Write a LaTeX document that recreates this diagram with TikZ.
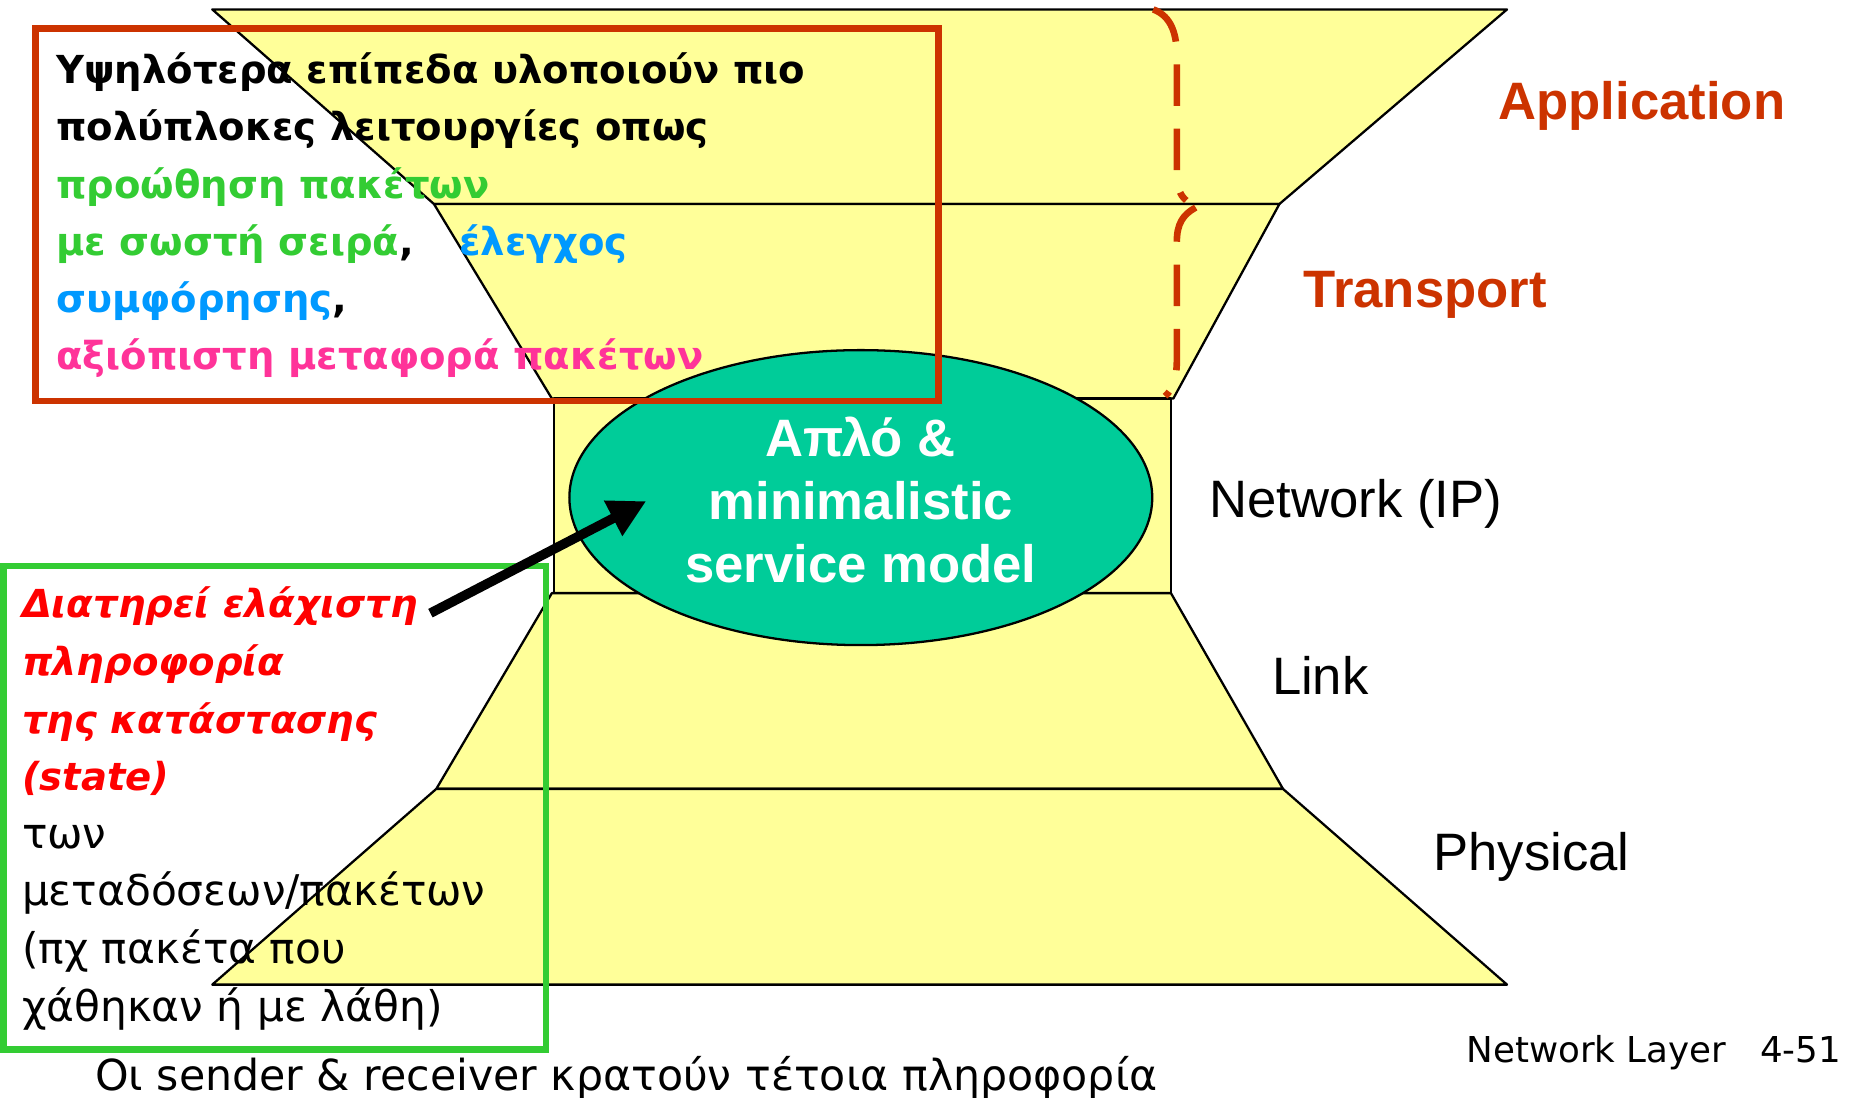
\documentclass[tikz,border=0pt]{standalone}
\usepackage{fontspec}
\setmainfont{Liberation Sans}
\newfontfamily\comic{DejaVu Sans}
\usetikzlibrary{arrows.meta}
\usetikzlibrary{shapes.geometric}
\definecolor{col1}{HTML}{CC3300}
\definecolor{col2}{HTML}{FFFF99}
\definecolor{col3}{HTML}{00CC99}
\definecolor{col4}{HTML}{33CC33}
\definecolor{col5}{HTML}{0099FF}
\definecolor{col6}{HTML}{FF3399}
\definecolor{col7}{HTML}{FF0000}

\begin{document}
\begin{tikzpicture}[x=0.01cm, y=-0.01cm]
    \tikzstyle{layer} += [draw=black, fill=col2, line width=0.55pt, line join=round];
    \tikzstyle{lab} += [inner sep=0pt, anchor=base west, font=\fontsize{12.7}{15}\selectfont];
    \tikzstyle{frame} += [line width=1.6pt];
    \tikzstyle{brace} += [col1, line width=1.6pt, dash pattern=on 10pt off 5.5pt];
    \useasboundingbox (0,0) rectangle (1568,931);

    % layers
    \draw[layer] (180,8)   -- (1278,8)   -- (1085,173) -- (368,173) -- cycle;
    \draw[layer] (368,173) -- (1085,173) -- (995,338)  -- (468,338) -- cycle;
    \draw[layer] (470,338) rectangle (993,503);
    \draw[layer] (468,503) -- (993,503)  -- (1088,669) -- (370,669) -- cycle;
    \draw[layer] (370,669) -- (1088,669) -- (1278,835) -- (180,835) -- cycle;

    \node (model) at (730,422) [ellipse, draw=black, fill=col3, line width=0.55pt,
      minimum width=4.94cm, minimum height=2.5cm] {};
    \node (model_txt) at (730,424) [text=white, align=center,
      font=\bfseries\fontsize{12.7}{15.3}\selectfont] {Απλό \&\\minimalistic\\service model};

    \draw[brace] (978,8) .. controls (994,14) and (998,30) .. (998,48) -- (998,145)
      .. controls (998,158) and (1000,165) .. (1006,170);
    \draw[brace] (1014,176) .. controls (1003,182) and (998,190) .. (998,205) -- (998,305)
      .. controls (998,320) and (995,330) .. (988,336);

    \node (app)   at (1270,101) [lab, text=col1, font=\bfseries\fontsize{12.7}{15}\selectfont] {Application};
    \node (trans) at (1105,261) [lab, text=col1, font=\bfseries\fontsize{12.7}{15}\selectfont] {Transport};
    \node (net)   at (1025,439) [lab] {Network (IP)};
    \node (link)  at (1078,589) [lab] {Link};
    \node (phys)  at (1215,738) [lab] {Physical};

    % upper layers
    \draw[frame, col1] (30,24) rectangle (796,340);
    \node (upper) at (47,44) [anchor=north west, inner sep=0pt, align=left,
      font=\comic\bfseries\fontsize{9.3}{13.8}\selectfont] {%
      Υψηλότερα επίπεδα υλοποιούν πιο\\
      πολύπλοκες λειτουργίες οπως\\
      \textcolor{col4}{προώθηση πακέτων}\\
      \textcolor{col4}{με σωστή σειρά},\hspace{11pt}\textcolor{col5}{έλεγχος}\\
      \textcolor{col5}{συμφόρησης},\\
      \textcolor{col6}{αξιόπιστη μεταφορά πακέτων}};

    % network layer state
    \draw[frame, col4] (3,480) rectangle (463,890);
    \node (state) at (18,497) [anchor=north west, inner sep=0pt, align=left,
      font=\comic\fontsize{10.2}{13.9}\selectfont] {%
      \textcolor{col7}{\bfseries\itshape\fontsize{9.3}{13.9}\selectfont Διατηρεί ελάχιστη}\\
      \textcolor{col7}{\bfseries\itshape\fontsize{9.3}{13.9}\selectfont πληροφορία}\\
      \textcolor{col7}{\bfseries\itshape\fontsize{9.3}{13.9}\selectfont της κατάστασης}\\
      \textcolor{col7}{\bfseries\itshape\fontsize{9.3}{13.9}\selectfont (state)}\\
      των\\
      μεταδόσεων/πακέτων\\
      (πχ πακέτα που\\
      χάθηκαν ή με λάθη)};

    \coordinate (state_end) at (365,520);
    \coordinate (model_in)  at (548,425);
    \draw[-{Triangle[length=9pt, width=9pt]}, line width=2.3pt] (state_end) -- (model_in);

    \node (ends)  at (80,925)   [lab, font=\comic\fontsize{10.3}{12}\selectfont] {Οι sender \& receiver κρατούν τέτοια πληροφορία};
    \node (slide) at (1243,901) [lab, font=\comic\fontsize{8.6}{10}\selectfont] {Network Layer\ \ \ 4-51};
\end{tikzpicture}
\end{document}
